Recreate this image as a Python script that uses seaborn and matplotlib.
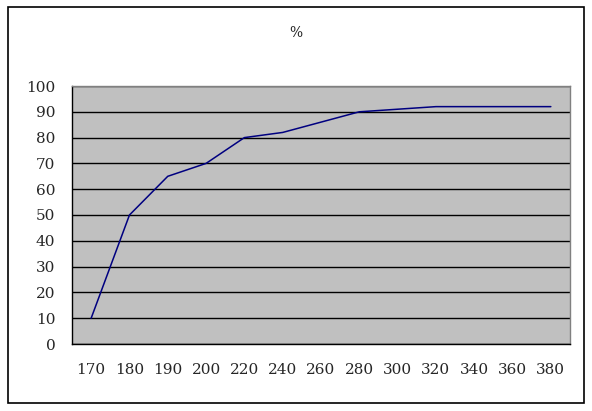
import numpy as np
import pandas as pd
import matplotlib
matplotlib.use("Agg")
import matplotlib.pyplot as plt
import seaborn as sns
from matplotlib.patches import Rectangle

# Data
categories = ["170", "180", "190", "200", "220", "240", "260",
              "280", "300", "320", "340", "360", "380"]
percent = [10, 50, 65, 70, 80, 82, 86, 90, 91, 92, 92, 92, 92]
y_ticks = [0, 10, 20, 30, 40, 50, 60, 70, 80, 90, 100]

df = pd.DataFrame({"pos": np.arange(len(categories)), "value": percent})

sns.set_style("white")
plt.rcParams["font.family"] = ["DejaVu Serif"]

fig = plt.figure(figsize=(5.92, 4.11), dpi=100)
ax = fig.add_axes([72 / 592, 67 / 411, 498 / 592, 258 / 411])
ax.set_facecolor("#C0C0C0")

sns.lineplot(data=df, x="pos", y="value", ax=ax, color="#000080",
             linewidth=1.1, zorder=3)

# value axis
ax.set_ylim(0, 100)
ax.set_yticks(y_ticks)
ax.set_yticklabels([str(t) for t in y_ticks], fontsize=11)
ax.grid(axis="y", color="black", linewidth=1.0, zorder=1)
ax.set_axisbelow(True)

# category axis: labels at centres, tick marks between categories
ax.set_xlim(-0.5, len(categories) - 0.5)
ax.set_xticks(np.arange(len(categories)))
ax.set_xticklabels(categories, fontsize=11)
ax.set_xticks(np.arange(0.5, len(categories) - 0.5), minor=True)
ax.tick_params(axis="x", which="major", length=0, pad=14)
ax.tick_params(axis="x", which="minor", length=5, width=1, color="black",
               direction="in")
ax.tick_params(axis="y", length=0, pad=12)

ax.set_xlabel("")
ax.set_ylabel("")

for side in ["left", "bottom"]:
    ax.spines[side].set_color("black")
    ax.spines[side].set_linewidth(1.0)
for side in ["top", "right"]:
    ax.spines[side].set_color("#808080")
    ax.spines[side].set_linewidth(1.0)

fig.text(296 / 592, 1 - 33 / 411, "%", ha="center", va="center", fontsize=10)

# outer chart border
fig.patches.append(Rectangle((8 / 592, 8 / 411), 576 / 592, 396 / 411,
                             transform=fig.transFigure, fill=False,
                             edgecolor="black", linewidth=1.2))

fig.savefig("out.png", dpi=100)
